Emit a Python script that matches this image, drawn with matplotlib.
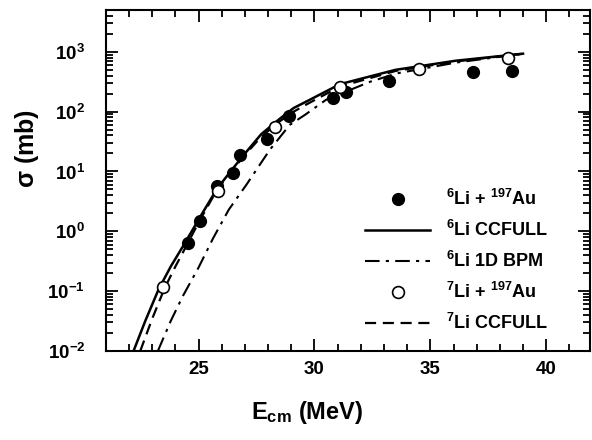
import math
import numpy as np
import matplotlib
matplotlib.use("Agg")
import matplotlib.pyplot as plt
from matplotlib.ticker import MultipleLocator, LogLocator, FuncFormatter, NullFormatter

plt.rcParams['font.family'] = ['Liberation Sans', 'DejaVu Sans']
plt.rcParams['font.weight'] = 'bold'
plt.rcParams['mathtext.fontset'] = 'custom'
plt.rcParams['mathtext.rm'] = 'Liberation Sans:bold'
plt.rcParams['mathtext.it'] = 'Liberation Sans:bold'
plt.rcParams['mathtext.bf'] = 'Liberation Sans:bold'
plt.rcParams['mathtext.default'] = 'bf'

# 6Li + 197Au measured fusion cross sections (mb)
li6_e = [24.53, 25.04, 25.8, 26.47, 26.8, 27.93, 28.88, 30.78, 31.38, 33.23, 36.85, 38.53]
li6_sig = [0.65, 1.5, 5.8, 9.6, 19, 35.5, 86, 170, 215, 328, 464, 480]

# 7Li + 197Au measured fusion cross sections (mb)
li7_e = [23.45, 25.85, 28.28, 31.08, 34.53, 38.36]
li7_sig = [0.117, 4.8, 56, 262, 520, 794]
li7_eerr = [0.15, 0, 0, 0, 0, 0]

# 6Li CCFULL
cc6_e = [22.19, 22.7, 23.27, 23.8, 24.4, 25.0, 25.8, 26.5, 27.0, 27.7, 28.5, 29.1, 29.7,
         31.1, 33.5, 36.1, 39.0]
cc6_sig = [0.010, 0.032, 0.107, 0.26, 0.63, 1.58, 5.2, 11.5, 20, 42, 76, 115, 151,
           288, 500, 710, 930]

# 7Li CCFULL
cc7_e = [22.48, 23.0, 23.53, 24.0, 24.5, 25.0, 25.8, 26.5, 27.0, 27.7, 28.5, 29.1, 29.7,
         31.1, 33.5, 36.1, 39.0]
cc7_sig = [0.010, 0.035, 0.112, 0.26, 0.60, 1.41, 5.0, 11.0, 19, 38, 69, 100, 135,
           263, 479, 690, 930]

# 6Li 1D BPM
bpm_e = [23.24, 23.8, 24.32, 25.0, 25.62, 26.3, 27.06, 28.07, 28.93, 29.6, 30.5, 32.4,
         33.55, 36.1, 39.0]
bpm_sig = [0.010, 0.032, 0.083, 0.25, 0.76, 2.3, 6.0, 23, 60, 89, 158, 316,
           436, 660, 930]

fig = plt.figure(figsize=(5.92, 4.4), dpi=100)
ax = fig.add_axes([0.179, 0.2023, 0.818, 0.775])

h1, = ax.plot(li6_e, li6_sig, 'o', color='black', markersize=8.5, zorder=5)
h2, = ax.plot(cc6_e, cc6_sig, '-', color='black', lw=1.8)
h3, = ax.plot(bpm_e, bpm_sig, color='black', lw=1.5, dashes=[7, 3, 1.5, 3])
ax.errorbar(li7_e, li7_sig, xerr=li7_eerr, fmt='none', ecolor='black',
            elinewidth=1, capsize=0, zorder=5)
h4, = ax.plot(li7_e, li7_sig, 'o', color='black', mfc='white', mec='black', mew=1.2,
              markersize=8.5, zorder=6)
h5, = ax.plot(cc7_e, cc7_sig, color='black', lw=1.6, dashes=[5, 3])

ax.set_yscale('log')
ax.set_xlim(21, 41.9)
ax.set_ylim(0.01, 5000)

ax.xaxis.set_major_locator(MultipleLocator(5))
ax.xaxis.set_minor_locator(MultipleLocator(1))
ax.yaxis.set_major_locator(LogLocator(base=10, numticks=100))
ax.yaxis.set_minor_locator(LogLocator(base=10, subs=np.arange(2, 10), numticks=100))
ax.yaxis.set_minor_formatter(NullFormatter())
ax.yaxis.set_major_formatter(FuncFormatter(lambda v, p: r'$10^{%d}$' % round(math.log10(v))))

ax.tick_params(which='both', direction='in', top=True, right=True, width=1.3)
ax.tick_params(which='major', length=8.5)
ax.tick_params(which='minor', length=5)
ax.tick_params(axis='x', which='major', labelsize=13.5, pad=7)
ax.tick_params(axis='y', which='major', labelsize=13.5, pad=15)
for s in ax.spines.values():
    s.set_linewidth(1.5)

ax.set_xlabel(r'E$_{\mathbf{cm}}$ (MeV)', fontsize=17, fontweight='bold')
ax.set_ylabel(r'$\sigma$ (mb)', fontsize=18, fontweight='bold')
ax.xaxis.set_label_coords(0.416, -0.14)
ax.yaxis.set_label_coords(-0.135, 0.595)

labels = [r'$^{6}$Li + $^{197}$Au', r'$^{6}$Li CCFULL', r'$^{6}$Li 1D BPM',
          r'$^{7}$Li + $^{197}$Au', r'$^{7}$Li CCFULL']
leg = ax.legend([h1, h2, h3, h4, h5], labels, loc='upper left',
                bbox_to_anchor=(0.535, 0.475), frameon=False, fontsize=13,
                handlelength=3.6, handletextpad=0.9, labelspacing=0.6,
                borderpad=0, borderaxespad=0, numpoints=1)

fig.savefig('out.png', dpi=100)
